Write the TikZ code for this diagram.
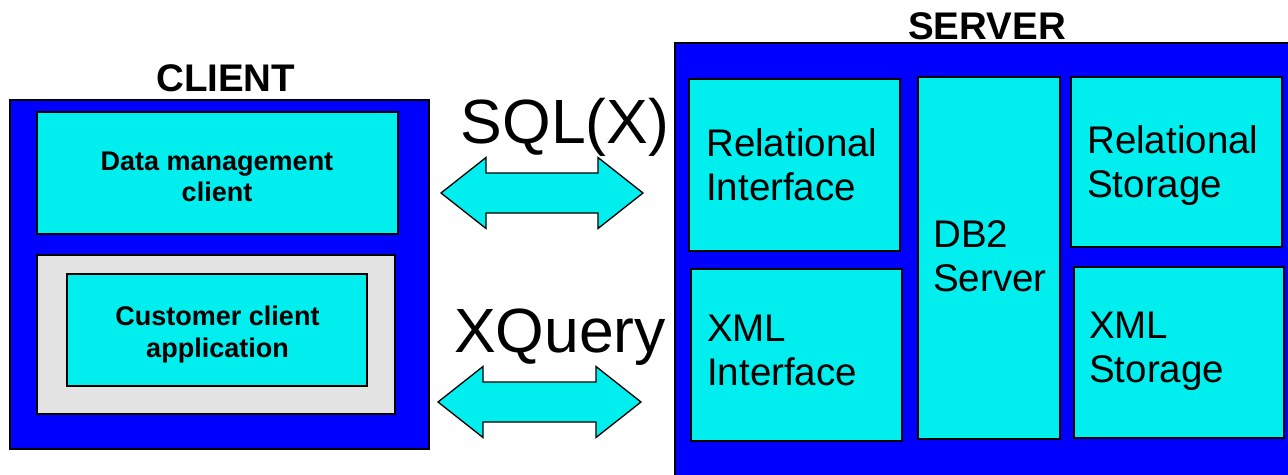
\documentclass[tikz,border=0pt]{standalone}
\usepackage{fontspec}
\setmainfont{Liberation Sans}
\definecolor{boxcyan}{RGB}{0,238,238}
\definecolor{bgblue}{RGB}{0,0,255}
\definecolor{lightgray}{RGB}{227,227,227}
\begin{document}
\begin{tikzpicture}[x=1pt,y=-1pt,
  outerbox/.style={draw=black,fill=bgblue,line width=1.3pt,rectangle,inner sep=0pt},
  cyanbox/.style={draw=black,fill=boxcyan,line width=1.3pt,rectangle,inner sep=0pt},
  graybox/.style={draw=black,fill=lightgray,line width=1.3pt,rectangle,inner sep=0pt},
  titletext/.style={font=\fontsize{38.5}{44}\selectfont\bfseries,inner sep=0pt},
  clienttext/.style={font=\fontsize{27}{31.5}\selectfont\bfseries,align=center,inner sep=0pt},
  servertext/.style={font=\fontsize{38.5}{44}\selectfont,align=left,inner sep=0pt,anchor=base west},
  prototext/.style={font=\fontsize{62.5}{70}\selectfont,inner sep=0pt,anchor=base},
  arrowshape/.style={draw=black,fill=boxcyan,line width=1.3pt,line join=miter}]
\useasboundingbox (0,0) rectangle (1288,474);
\clip (0,0) rectangle (1288,474);
\fill[white] (0,0) rectangle (1288,474);
% client
\node[outerbox,minimum width=419,minimum height=349] (client) at (219.5,274.5) {};
\node[titletext,anchor=base] (clienttitle) at (225.8,91) {CLIENT};
\node[cyanbox,minimum width=361,minimum height=122] (dm) at (217.5,173) {};
\node[clienttext,anchor=base] (dmtext) at (217,201.5) {Data management\\client};
\node[graybox,minimum width=358,minimum height=159] (gray) at (216,334.5) {};
\node[cyanbox,minimum width=300,minimum height=112] (cust) at (217,330) {};
\node[clienttext,anchor=base] (custtext) at (217.5,357) {Customer client\\application};
% server
\node[outerbox,minimum width=625,minimum height=447] (server) at (987.5,266.5) {};
\node[titletext,anchor=base] (servertitle) at (987,39) {SERVER};
\node[cyanbox,minimum width=211,minimum height=172] (ri) at (794.5,165) {};
\node[servertext] (ritext) at (706,200) {Relational\\Interface};
\node[cyanbox,minimum width=211,minimum height=172] (xi) at (796.5,355) {};
\node[servertext] (xitext) at (707,385) {XML\\Interface};
\node[cyanbox,minimum width=142,minimum height=362] (db2) at (989,258) {};
\node[servertext] (db2text) at (933,291) {DB2\\Server};
\node[cyanbox,minimum width=211,minimum height=170] (rs) at (1176.5,162) {};
\node[servertext] (rstext) at (1087,197) {Relational\\Storage};
\node[cyanbox,minimum width=210,minimum height=171] (xs) at (1179,352.5) {};
\node[servertext] (xstext) at (1089,382) {XML\\Storage};
% protocols
\node[prototext] (sqlx) at (565,143) {SQL(X)};
\node[prototext] (xquery) at (560,352) {XQuery};
\coordinate (a1l) at (441,193);
\coordinate (a2l) at (438,402);
\draw[arrowshape] (a1l) -- ++(45,-35.5) -- ++(0,15.5) -- ++(112,0) -- ++(0,-15.5)
  -- ++(45,35.5) -- ++(-45,35.5) -- ++(0,-15.5) -- ++(-112,0) -- ++(0,15.5) -- cycle;
\draw[arrowshape] (a2l) -- ++(45,-35.5) -- ++(0,15.5) -- ++(113,0) -- ++(0,-15.5)
  -- ++(45,35.5) -- ++(-45,35.5) -- ++(0,-15.5) -- ++(-113,0) -- ++(0,15.5) -- cycle;
\end{tikzpicture}
\end{document}
